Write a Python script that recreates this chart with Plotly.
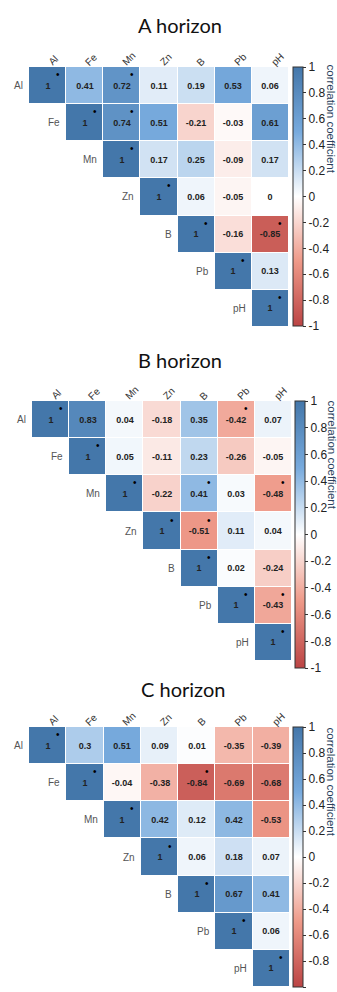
import plotly.graph_objects as go

labels = ['Al', 'Fe', 'Mn', 'Zn', 'B', 'Pb', 'pH']

# upper triangle rows (starting at diagonal)
a_rows = [
    [1, 0.41, 0.72, 0.11, 0.19, 0.53, 0.06],
    [1, 0.74, 0.51, -0.21, -0.03, 0.61],
    [1, 0.17, 0.25, -0.09, 0.17],
    [1, 0.06, -0.05, 0],
    [1, -0.16, -0.85],
    [1, 0.13],
    [1],
]
b_rows = [
    [1, 0.83, 0.04, -0.18, 0.35, -0.42, 0.07],
    [1, 0.05, -0.11, 0.23, -0.26, -0.05],
    [1, -0.22, 0.41, 0.03, -0.48],
    [1, -0.51, 0.11, 0.04],
    [1, 0.02, -0.24],
    [1, -0.43],
    [1],
]
c_rows = [
    [1, 0.3, 0.51, 0.09, 0.01, -0.35, -0.39],
    [1, -0.04, -0.38, -0.84, -0.69, -0.68],
    [1, 0.42, 0.12, 0.42, -0.53],
    [1, 0.06, 0.18, 0.07],
    [1, 0.67, 0.41],
    [1, 0.06],
    [1],
]
a_sig = [('Al', 'Mn'), ('Fe', 'Mn'), ('B', 'pH')]
b_sig = [('Al', 'Pb'), ('Mn', 'B'), ('Mn', 'pH'), ('Zn', 'B'), ('Pb', 'pH')]
c_sig = [('Fe', 'B')]

titles = ['A horizon', 'B horizon', 'C horizon']
cb_ticks = [1, 0.8, 0.6, 0.4, 0.2, 0, -0.2, -0.4, -0.6, -0.8, -1]
cb_ticktext = ['1', '0.8', '0.6', '0.4', '0.2', '0', '-0.2', '-0.4', '-0.6', '-0.8', '-1']

colorscale = [[0, '#BB4444'], [0.25, '#EE9988'], [0.5, '#FFFFFF'],
              [0.75, '#77AADD'], [1, '#4477AA']]

W, H = 337, 992
# pixel layout per panel: grid left, right, top, bottom; colorbar left, top, bottom; title y
panels = [
    dict(rows=a_rows, sig=a_sig, gl=29, gr=289, gt=67, gb=327, cbl=293, cbt=67, cbb=326, ty=25, tx=180, ct=62),
    dict(rows=b_rows, sig=b_sig, gl=32, gr=292, gt=401, gb=661, cbl=295, cbt=401, cbb=668, ty=360, tx=180, ct=398),
    dict(rows=c_rows, sig=c_sig, gl=29, gr=290, gt=727, gb=987, cbl=293, cbt=727, cbb=987, ty=689, tx=183, ct=725),
]

FONT = 'Liberation Sans, Arial, sans-serif'

fig = go.Figure()
annotations = []
cell = 37.1
n = len(labels)

for k, p in enumerate(panels):
    z = [[None] * n for _ in range(n)]
    txt = [[''] * n for _ in range(n)]
    for i, r in enumerate(p['rows']):
        for j, v in enumerate(r):
            z[i][i + j] = v
            txt[i][i + j] = '<b>%s</b>' % format(v, 'g')
    xa = 'x' if k == 0 else 'x%d' % (k + 1)
    ya = 'y' if k == 0 else 'y%d' % (k + 1)
    cb_mid = 1 - (p['cbt'] + p['cbb']) / 2 / H
    fig.add_trace(go.Heatmap(
        z=z, x=labels, y=labels, text=txt, texttemplate='%{text}',
        textfont=dict(family=FONT, size=9, color='#222222'),
        colorscale=colorscale, zmin=-1, zmax=1, xgap=1, ygap=1,
        hoverinfo='skip', xaxis=xa, yaxis=ya,
        colorbar=dict(
            x=p['cbl'] / W, xanchor='left', xpad=0, ypad=0,
            y=cb_mid, yanchor='middle', lenmode='pixels', len=p['cbb'] - p['cbt'],
            thicknessmode='pixels', thickness=10,
            outlinewidth=1, outlinecolor='#333333',
            tickmode='array', tickvals=cb_ticks, ticktext=cb_ticktext,
            ticks='outside', ticklen=3, tickcolor='#333333',
            tickfont=dict(family=FONT, size=12, color='#222222'),
        ),
    ))
    axkey = '' if k == 0 else str(k + 1)
    fig.update_layout(**{
        'xaxis' + axkey: dict(domain=[p['gl'] / W, p['gr'] / W], anchor=ya,
                              range=[-0.5, n - 0.5], autorange=False,
                              showticklabels=False, showgrid=False, zeroline=False,
                              showline=False, ticks='', fixedrange=True),
        'yaxis' + axkey: dict(domain=[1 - p['gb'] / H, 1 - p['gt'] / H], anchor=xa,
                              range=[n - 0.5, -0.5], autorange=False,
                              showticklabels=False, showgrid=False,
                              zeroline=False, showline=False, ticks='', fixedrange=True),
    })
    # panel title
    annotations.append(dict(text=titles[k], xref='paper', yref='paper',
                            x=p['tx'] / W, y=1 - p['ty'] / H, xanchor='center', yanchor='middle',
                            showarrow=False, font=dict(family='Lato, Open Sans', size=20, color='#111111')))
    # colorbar title
    annotations.append(dict(text='correlation coefficient', xref='paper', yref='paper',
                            x=331 / W, y=1 - p['ct'] / H, xanchor='center', yanchor='top',
                            textangle=90, showarrow=False,
                            font=dict(family=FONT, size=11.5, color='#2B3F5C')))
    xr = xa
    yr = ya
    ydom = ya + ' domain'
    for i, lab in enumerate(labels):
        # column labels on top
        annotations.append(dict(text=lab, xref=xr, yref=ydom, x=lab, y=1,
                                xanchor='left', yanchor='bottom', textangle=-45,
                                xshift=-3, yshift=-2, borderpad=0, showarrow=False,
                                font=dict(family=FONT, size=10, color='#333333')))
        # row labels on the diagonal
        annotations.append(dict(text=lab, xref=xr, yref=yr, x=lab, y=lab,
                                xanchor='right', yanchor='middle', xshift=-cell / 2 - 5,
                                borderpad=0, showarrow=False,
                                font=dict(family=FONT, size=10, color='#555555')))
    # significance dots: diagonal + significant pairs
    pairs = [(l, l) for l in labels] + list(p['sig'])
    for (r, c) in pairs:
        annotations.append(dict(text='•', xref=xr, yref=yr, x=c, y=r,
                                xanchor='center', yanchor='middle', xshift=10, yshift=11,
                                borderpad=0, showarrow=False,
                                font=dict(family=FONT, size=10, color='#000000')))

fig.update_layout(width=W, height=H, margin=dict(l=0, r=0, t=0, b=0, autoexpand=False),
                  paper_bgcolor='white', plot_bgcolor='white',
                  annotations=annotations, showlegend=False)

fig.write_html('out.html', config={'displayModeBar': False},
               post_script="document.body.style.margin='0';")
